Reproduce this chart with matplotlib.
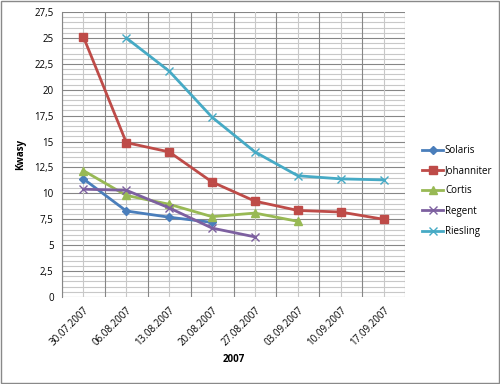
import matplotlib
matplotlib.use("Agg")
import matplotlib.pyplot as plt
from matplotlib.ticker import MultipleLocator, FuncFormatter
from matplotlib.patches import Rectangle
import numpy as np

plt.rcParams['font.family'] = ['Open Sans', 'DejaVu Sans']

dates = ["30.07.2007", "06.08.2007", "13.08.2007", "20.08.2007",
         "27.08.2007", "03.09.2007", "10.09.2007", "17.09.2007"]
solaris = [11.4, 8.3, 7.7, 7.2]
johanniter = [25.1, 14.9, 14.0, 11.1, 9.25, 8.35, 8.2, 7.5]
cortis = [12.2, 9.8, 8.95, 7.75, 8.1, 7.3]
regent = [10.4, 10.3, 8.6, 6.65, 5.8]
riesling = [None, 25.0, 21.8, 17.35, 14.0, 11.7, 11.4, 11.3]

series = [
    ("Solaris", solaris, "#4A7EBB", "D", 4),
    ("Johanniter", johanniter, "#BE4B48", "s", 6),
    ("Cortis", cortis, "#98B954", "^", 6),
    ("Regent", regent, "#7D60A0", "x", 5.5),
    ("Riesling", riesling, "#46AAC5", "x", 5.5),
]

fig = plt.figure(figsize=(5.0, 3.84), dpi=100)
fig.patches.append(Rectangle((0.002, 0.003), 0.995, 0.994, transform=fig.transFigure,
                             fill=False, edgecolor="#898989", linewidth=1.0))
ax = fig.add_axes([0.124, 0.2266, 0.686, 0.742])

n = len(dates)
ax.set_xlim(-0.5, n - 0.5)
ax.set_ylim(0, 27.5)

# gridlines
for v in np.arange(0, 27.51, 0.5):
    major = abs(v / 2.5 - round(v / 2.5)) < 1e-6
    ax.axhline(v, color="#868686" if major else "#C8C8C8", lw=0.8, zorder=0)
for i in range(n + 1):
    ax.axvline(i - 0.5, color="#868686", lw=0.8, zorder=0)
for i in range(n):
    ax.axvline(i, color="#C8C8C8", lw=0.8, zorder=0)

for name, vals, col, mk, ms in series:
    xs = [i for i, v in enumerate(vals) if v is not None]
    ys = [v for v in vals if v is not None]
    ax.plot(xs, ys, color=col, lw=2.0, marker=mk, ms=ms, mew=1.0, label=name, zorder=3)

for s in ax.spines.values():
    s.set_visible(False)
ax.spines['left'].set_visible(True)
ax.spines['left'].set_color("#868686")

ax.yaxis.set_major_locator(MultipleLocator(2.5))
ax.yaxis.set_major_formatter(FuncFormatter(lambda v, p: ("%g" % v).replace(".", ",")))
ax.set_xticks(range(n))
ax.set_xticklabels(dates, rotation=45, ha="right", rotation_mode="anchor", fontsize=7)
ax.tick_params(axis='y', labelsize=7, length=0, pad=6)
ax.tick_params(axis='x', length=0, pad=6)

ax.set_ylabel("Kwasy", fontsize=7, fontweight="bold", labelpad=6)
ax.set_xlabel("2007", fontsize=7, fontweight="bold", labelpad=4)

leg = ax.legend(loc="center left", bbox_to_anchor=(1.03, 0.372), frameon=False,
                fontsize=7, handlelength=2.2, labelspacing=0.95, handletextpad=0.15,
                borderpad=0.2)

fig.savefig("out.png", dpi=100)
